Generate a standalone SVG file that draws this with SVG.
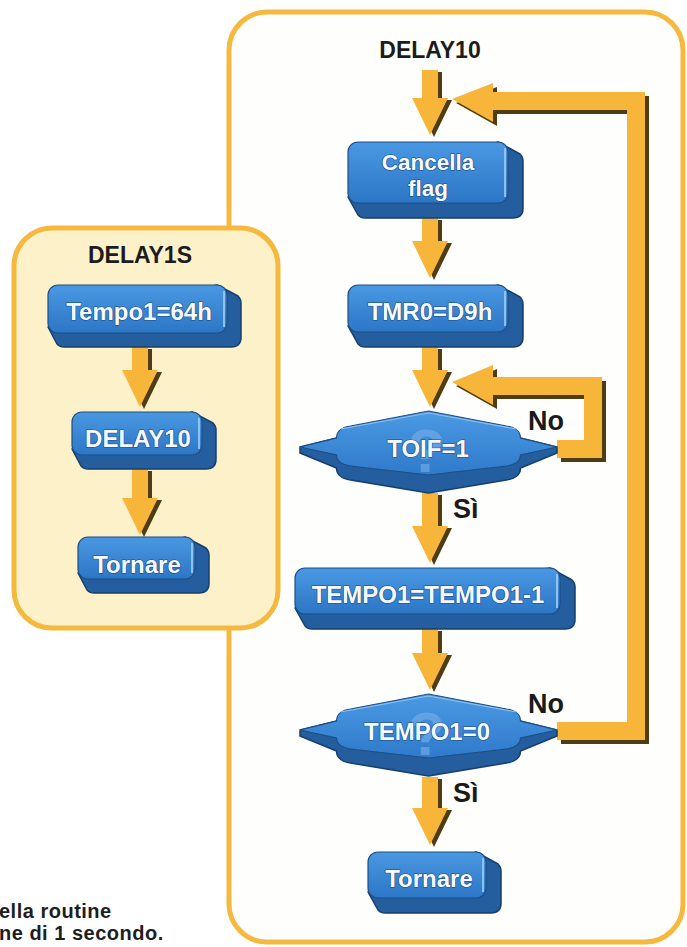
<svg xmlns="http://www.w3.org/2000/svg" width="687" height="947" viewBox="0 0 687 947">
<defs>
<linearGradient id="faceG" x1="0" y1="0" x2="0" y2="1">
<stop offset="0" stop-color="#4a98e2"/>
<stop offset="1" stop-color="#2c76c6"/>
</linearGradient>
<linearGradient id="decG" x1="0" y1="0" x2="0" y2="1">
<stop offset="0" stop-color="#4b9ae3"/>
<stop offset="1" stop-color="#2f7acb"/>
</linearGradient>
<g id="decShape">
<path class="ext" d="M -128.5,0 L -92,-9 L 92,-9 L 128.5,0 L 128.5,6 L 92,21 C 92,28 86,32 78,33 L 0,46 L -78,33 C -86,32 -92,28 -92,21 L -128.5,6 Z"/>
<path fill="url(#decG)" stroke="#1d4f85" stroke-width="1.2" d="M -128.5,0 L -92,-9 C -92,-16 -86,-20 -78,-21 L 0,-36 L 78,-21 C 86,-20 92,-16 92,-9 L 128.5,0 L 92,8 C 92,14 86,18 78,19 L 0,28 L -78,19 C -86,18 -92,14 -92,8 Z"/>
<path fill="none" stroke="#8cc0ef" stroke-width="1.2" d="M -88,-18 L 0,-34 L 88,-18"/>
<text class="q" x="-2" y="25">?</text>
</g>
</defs>
<style>
.panel { stroke: #f5b940; stroke-width: 5; }
.title { font-family: "Liberation Sans", Arial, sans-serif; font-weight: bold; font-size: 23px; fill: #1c1c1c; text-anchor: middle; }
.lbl { font-family: "Liberation Sans", Arial, sans-serif; font-weight: bold; font-size: 24px; fill: #f6faff; text-anchor: middle; stroke: #1a4a80; stroke-width: 1.2; paint-order: stroke; }
.lbl2 { font-size: 22.5px; }
.yn { font-family: "Liberation Sans", Arial, sans-serif; font-weight: bold; font-size: 27px; fill: #1a1a1a; }
.cap { font-family: "Liberation Sans", Arial, sans-serif; font-weight: bold; font-size: 20px; fill: #1e1e1e; letter-spacing: 0.5px; }
.ext { fill: #245e9e; stroke: #163f6b; stroke-width: 1.5; stroke-linejoin: round; }
.face { fill: url(#faceG); stroke: #1d4f85; stroke-width: 1.2; }
.hl { stroke: #a6d0f4; stroke-width: 1.6; fill: none; }
.q { font-family: "Liberation Sans", Arial, sans-serif; font-weight: bold; font-size: 62px; fill: #7fb4ea; opacity: 0.55; text-anchor: middle; }
.arr { fill: #f7b63a; }
.sh { fill: #4f3c12; }
</style>

<g id="panel-delay10">
<rect class="panel" x="229" y="12" width="454" height="930" rx="38" fill="#fefefc"/>
<text class="title" x="430" y="58">DELAY10</text>
</g>
<g id="panel-delay1s">
<rect class="panel" x="14" y="228" width="264" height="400" rx="38" fill="#fdf1c9"/>
<text class="title" x="140" y="263">DELAY1S</text>
</g>

<g id="connectors">
<path class="sh" transform="translate(4,2)" d="M 132,347 L 148,347 L 148,370 L 158,370 L 140,407 L 122,370 L 132,370 Z"/>
<path class="arr" d="M 132,347 L 148,347 L 148,370 L 158,370 L 140,407 L 122,370 L 132,370 Z"/>
<path class="sh" transform="translate(4,2)" d="M 132,469 L 148,469 L 148,498 L 158,498 L 140,535 L 122,498 L 132,498 Z"/>
<path class="arr" d="M 132,469 L 148,469 L 148,498 L 158,498 L 140,535 L 122,498 L 132,498 Z"/>
<path class="sh" transform="translate(4,2)" d="M 422,70 L 438,70 L 438,98 L 448,98 L 430,135 L 412,98 L 422,98 Z"/>
<path class="arr" d="M 422,70 L 438,70 L 438,98 L 448,98 L 430,135 L 412,98 L 422,98 Z"/>
<path class="sh" transform="translate(4,2)" d="M 422,218 L 438,218 L 438,241 L 448,241 L 430,278 L 412,241 L 422,241 Z"/>
<path class="arr" d="M 422,218 L 438,218 L 438,241 L 448,241 L 430,278 L 412,241 L 422,241 Z"/>
<path class="sh" transform="translate(4,2)" d="M 422,347 L 438,347 L 438,370 L 448,370 L 430,407 L 412,370 L 422,370 Z"/>
<path class="arr" d="M 422,347 L 438,347 L 438,370 L 448,370 L 430,407 L 412,370 L 422,370 Z"/>
<path class="sh" transform="translate(4,2)" d="M 422,493 L 438,493 L 438,526 L 448,526 L 430,563 L 412,526 L 422,526 Z"/>
<path class="arr" d="M 422,493 L 438,493 L 438,526 L 448,526 L 430,563 L 412,526 L 422,526 Z"/>
<path class="sh" transform="translate(4,2)" d="M 422,629 L 438,629 L 438,653 L 448,653 L 430,690 L 412,653 L 422,653 Z"/>
<path class="arr" d="M 422,629 L 438,629 L 438,653 L 448,653 L 430,690 L 412,653 L 422,653 Z"/>
<path class="sh" transform="translate(4,2)" d="M 422,777 L 438,777 L 438,808 L 448,808 L 430,845 L 412,808 L 422,808 Z"/>
<path class="arr" d="M 422,777 L 438,777 L 438,808 L 448,808 L 430,845 L 412,808 L 422,808 Z"/>
<path class="sh" transform="translate(4,4)" d="M 452,382 L 493,365 L 493,377 L 602,377 L 602,458 L 557,458 L 557,440 L 584,440 L 584,395 L 493,395 L 493,405 Z"/>
<path class="arr" d="M 452,382 L 493,365 L 493,377 L 602,377 L 602,458 L 557,458 L 557,440 L 584,440 L 584,395 L 493,395 L 493,405 Z"/>
<path class="sh" transform="translate(4,4)" d="M 452,99 L 493,83 L 493,92 L 645,92 L 645,740 L 557,740 L 557,722 L 627,722 L 627,110 L 493,110 L 493,122 Z"/>
<path class="arr" d="M 452,99 L 493,83 L 493,92 L 645,92 L 645,740 L 557,740 L 557,722 L 627,722 L 627,110 L 493,110 L 493,122 Z"/>
<text class="yn" x="528" y="430">No</text>
<text class="yn" x="453" y="518">Sì</text>
<text class="yn" x="528" y="713">No</text>
<text class="yn" x="453" y="802">Sì</text>
</g>

<g id="node-tempo1-64h">
<path class="ext" d="M 217,285 L 238,296 Q 241,299 241,303 L 241,337 Q 241,347 231,347 L 64,347 Q 60,347 57,344 L 48,327 Z"/>
<rect class="face" x="48" y="285" width="179" height="48" rx="10"/>
<line class="hl" x1="224" y1="291" x2="224" y2="327"/>
<text class="lbl" x="139" y="320">Tempo1=64h</text>
</g>
<g id="node-delay10-call">
<path class="ext" d="M 192,412 L 213,423 Q 216,426 216,430 L 216,459 Q 216,469 206,469 L 88,469 Q 84,469 81,466 L 72,449 Z"/>
<rect class="face" x="72" y="412" width="130" height="43" rx="10"/>
<line class="hl" x1="199" y1="418" x2="199" y2="449"/>
<text class="lbl" x="138" y="447">DELAY10</text>
</g>
<g id="node-tornare-left">
<path class="ext" d="M 185,537 L 206,548 Q 209,551 209,555 L 209,583 Q 209,593 199,593 L 94,593 Q 90,593 87,590 L 78,573 Z"/>
<rect class="face" x="78" y="537" width="117" height="42" rx="10"/>
<line class="hl" x1="192" y1="543" x2="192" y2="573"/>
<text class="lbl" x="137" y="573">Tornare</text>
</g>

<g id="node-cancella-flag">
<path class="ext" d="M 498,142 L 520,154 Q 523,157 523,161 L 523,208 Q 523,218 513,218 L 365,218 Q 361,218 358,215 L 348,197 Z"/>
<rect class="face" x="348" y="142" width="160" height="61" rx="10"/>
<line class="hl" x1="505" y1="148" x2="505" y2="197"/>
<text class="lbl lbl2"><tspan x="428" y="170">Cancella</tspan><tspan x="428" y="196">flag</tspan></text>
</g>
<g id="node-tmr0">
<path class="ext" d="M 498,285 L 520,297 Q 523,300 523,304 L 523,337 Q 523,347 513,347 L 365,347 Q 361,347 358,344 L 348,326 Z"/>
<rect class="face" x="348" y="285" width="160" height="47" rx="10"/>
<line class="hl" x1="505" y1="291" x2="505" y2="326"/>
<text class="lbl" x="430" y="320">TMR0=D9h</text>
</g>
<g id="node-toif">
<use href="#decShape" transform="translate(428.5,447)"/>
<text class="lbl" x="428" y="457">TOIF=1</text>
</g>
<g id="node-tempo1-dec">
<path class="ext" d="M 550,568 L 572,580 Q 575,583 575,587 L 575,619 Q 575,629 565,629 L 312,629 Q 308,629 305,626 L 295,608 Z"/>
<rect class="face" x="295" y="568" width="265" height="46" rx="10"/>
<line class="hl" x1="557" y1="574" x2="557" y2="608"/>
<text class="lbl" x="428" y="603">TEMPO1=TEMPO1-1</text>
</g>
<g id="node-tempo1-zero">
<use href="#decShape" transform="translate(428.5,730)"/>
<text class="lbl" x="427" y="740">TEMPO1=0</text>
</g>
<g id="node-tornare-right">
<path class="ext" d="M 476,852 L 498,864 Q 501,867 501,871 L 501,903 Q 501,913 491,913 L 385,913 Q 381,913 378,910 L 368,892 Z"/>
<rect class="face" x="368" y="852" width="118" height="46" rx="10"/>
<line class="hl" x1="483" y1="858" x2="483" y2="892"/>
<text class="lbl" x="429" y="887">Tornare</text>
</g>

<g id="caption">
<text class="cap" x="-1" y="918">ella routine</text>
<text class="cap" x="-1" y="940">ne di 1 secondo.</text>
</g>
</svg>
